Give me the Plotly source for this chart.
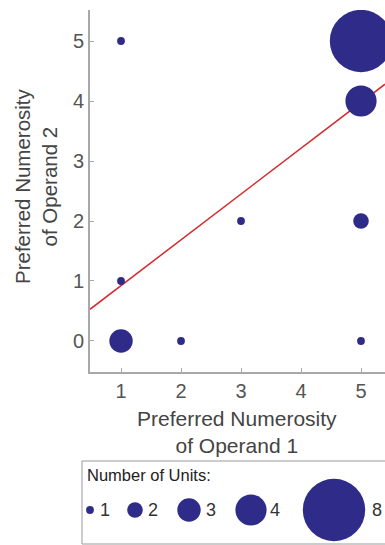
import plotly.graph_objects as go

# Data: preferred numerosity pairs and number of units
op1 = [1, 5, 5, 3, 5, 1, 1, 2, 5]
op2 = [5, 5, 4, 2, 2, 1, 0, 0, 0]
units = [1, 8, 4, 1, 2, 1, 3, 1, 1]

# regression line
fit_slope = 0.763
fit_intercept = 0.16

x_ticks = [1, 2, 3, 4, 5]
y_ticks = [0, 1, 2, 3, 4, 5]

legend_units = [1, 2, 3, 4, 8]
legend_marker_x = [8, 53, 107, 169, 252]
legend_label_x = [23, 71, 129, 193, 295]

W, H = 385, 545
navy = "#2e2c88"
red = "#d42a2f"
grey = "#555555"
SIZEREF = 1 / 7.8

xr = [0.483, 5.4]
yr = [-0.517, 5.517]

fig = go.Figure()

# regression line
fig.add_trace(go.Scatter(
    x=xr, y=[fit_intercept + fit_slope * v for v in xr],
    mode="lines", line=dict(color=red, width=1.5),
    hoverinfo="skip", showlegend=False))

# data bubbles
fig.add_trace(go.Scatter(
    x=op1, y=op2, mode="markers",
    marker=dict(size=units, sizemode="diameter", sizeref=SIZEREF,
                color=navy, opacity=1, line=dict(width=0)),
    showlegend=False))

# legend bubbles
leg_y = 35
fig.add_trace(go.Scatter(
    x=legend_marker_x, y=[leg_y] * len(legend_units), mode="markers",
    marker=dict(size=legend_units, sizemode="diameter", sizeref=SIZEREF,
                color=navy, opacity=1, line=dict(width=0)),
    xaxis="x2", yaxis="y2", showlegend=False, cliponaxis=False))

annotations = []
for lx, u in zip(legend_label_x, legend_units):
    annotations.append(dict(x=lx, y=leg_y, xref="x2", yref="y2", text=str(u),
                            showarrow=False, font=dict(size=18, color="#333"),
                            xanchor="center", yanchor="middle"))
annotations.append(dict(x=3, y=70, xref="x2", yref="y2", text="Number of Units:",
                        showarrow=False, font=dict(size=16.5, color="#222"),
                        xanchor="left", yanchor="middle"))

# axis titles
annotations.append(dict(x=237 / W, y=1 - 432 / H, xref="paper", yref="paper",
                        text="Preferred Numerosity<br>of Operand 1", showarrow=False,
                        font=dict(size=21, color="#444"), xanchor="center",
                        yanchor="middle"))
annotations.append(dict(x=36 / W, y=1 - 186 / H, xref="paper", yref="paper",
                        text="Preferred Numerosity<br>of Operand 2", showarrow=False,
                        textangle=-90,
                        font=dict(size=20.5, color="#444"), xanchor="center",
                        yanchor="middle"))

fig.update_layout(
    width=W, height=H,
    margin=dict(l=0, r=0, t=0, b=0),
    paper_bgcolor="white", plot_bgcolor="white",
    font=dict(family="Liberation Sans, Arial, sans-serif"),
    xaxis=dict(domain=[90 / W, 1], range=xr, tickvals=x_ticks,
               showgrid=False, zeroline=False, showline=True,
               linecolor="#a8a8a8", linewidth=2, ticks="inside", ticklen=4,
               tickcolor="#a8a8a8", tickfont=dict(size=20, color=grey),
               anchor="y"),
    yaxis=dict(domain=[1 - 372 / H, 1 - 10 / H], range=yr, tickvals=y_ticks,
               showgrid=False, zeroline=False, showline=True,
               linecolor="#a8a8a8", linewidth=2, ticks="inside", ticklen=4,
               tickcolor="#a8a8a8", tickfont=dict(size=20, color=grey),
               anchor="x"),
    xaxis2=dict(domain=[82 / W, 1], range=[0, 303], visible=False, anchor="y2"),
    yaxis2=dict(domain=[0, 84 / H], range=[0, 84], visible=False, anchor="x2"),
    annotations=annotations,
    shapes=[dict(type="rect", xref="paper", yref="paper",
                 x0=82 / W, x1=1.01, y0=1 / H, y1=84 / H,
                 line=dict(color="#999999", width=1))],
)

fig.write_html("out.html")
